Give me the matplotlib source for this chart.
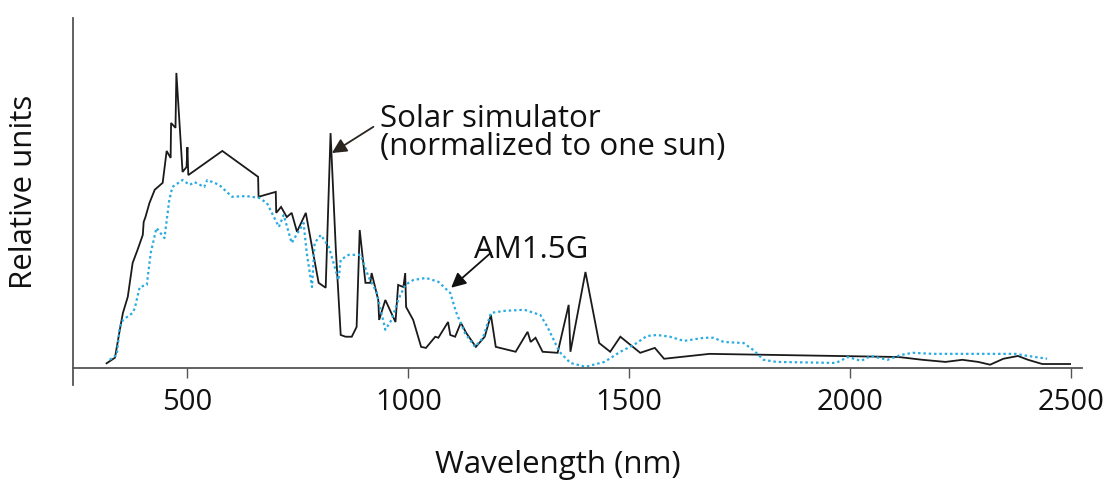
import matplotlib
matplotlib.use("Agg")
import matplotlib.pyplot as plt

# Solar simulator (normalized to one sun)
sim_wl = [317, 336, 347, 354, 365, 376, 387, 399, 401, 405, 414, 426, 444, 453, 462, 463,
          473, 475, 489, 498, 500, 502, 579, 660, 661, 700, 701, 712, 725, 736, 748, 768,
          782, 797, 813, 824, 836, 847, 858, 872, 883, 890, 903, 914, 917, 932, 934, 948,
          971, 977, 989, 993, 995, 1011, 1029, 1040, 1061, 1068, 1090, 1095, 1106, 1119,
          1131, 1153, 1173, 1187, 1198, 1243, 1270, 1277, 1288, 1304, 1338, 1363, 1367,
          1401, 1432, 1457, 1480, 1525, 1558, 1579, 1682, 1968, 2110, 2164, 2216, 2254,
          2290, 2317, 2347, 2380, 2403, 2435, 2498]
sim_val = [1.3, 2.9, 10.9, 15.7, 20.3, 30.0, 33.7, 38.0, 41.7, 43.1, 47.1, 50.9, 52.9, 62.0,
           60.0, 70.0, 68.6, 84.3, 56.0, 57.4, 63.1, 55.1, 62.0, 54.6, 48.9, 50.3, 44.3, 46.0,
           43.1, 44.3, 38.9, 44.3, 34.6, 24.3, 22.9, 67.1, 33.7, 9.4, 8.9, 8.9, 11.7, 39.4,
           24.3, 24.3, 27.1, 19.4, 13.7, 19.4, 13.1, 23.7, 23.1, 27.1, 17.4, 13.7, 6.0, 5.7,
           8.9, 8.6, 13.1, 9.4, 8.9, 12.9, 10.0, 6.0, 8.9, 15.1, 6.0, 4.6, 10.3, 7.4, 8.6,
           4.6, 4.3, 18.0, 4.6, 27.4, 7.1, 4.6, 8.9, 4.3, 5.7, 2.6, 4.0, 3.4, 3.1, 2.3, 1.7,
           2.3, 1.7, 0.9, 2.6, 3.4, 2.3, 1.1, 1.1]

# AM1.5G reference spectrum
am_wl = [324, 340, 347, 354, 376, 381, 392, 408, 417, 430, 448, 459, 466, 489, 505, 516,
         538, 545, 572, 601, 633, 662, 680, 707, 718, 736, 763, 770, 782, 788, 802, 820,
         842, 847, 865, 892, 910, 928, 948, 962, 977, 993, 1011, 1040, 1068, 1095, 1108,
         1128, 1151, 1169, 1187, 1218, 1263, 1299, 1315, 1342, 1367, 1401, 1444, 1480,
         1511, 1540, 1563, 1592, 1624, 1669, 1691, 1714, 1759, 1781, 1804, 1833, 1968,
         1995, 2025, 2047, 2085, 2115, 2142, 2187, 2374, 2403, 2446]
am_val = [2.3, 3.7, 11.7, 13.7, 15.7, 17.1, 23.1, 23.7, 32.9, 40.0, 37.1, 48.0, 51.7, 53.7,
          52.3, 53.1, 51.7, 53.7, 52.3, 48.9, 49.1, 48.6, 47.1, 40.3, 43.7, 35.7, 41.4,
          32.9, 23.1, 35.7, 38.0, 34.6, 25.1, 30.9, 32.3, 32.3, 26.0, 21.7, 10.9, 13.7,
          19.4, 23.7, 25.1, 25.7, 24.6, 21.4, 16.0, 10.0, 6.0, 8.6, 15.7, 16.3, 16.6, 15.1,
          11.7, 4.6, 1.4, 0.3, 1.7, 4.6, 6.6, 9.1, 9.4, 8.9, 7.7, 8.6, 8.6, 7.4, 7.1, 5.1,
          2.3, 1.7, 1.4, 3.1, 2.0, 3.4, 2.3, 3.7, 4.3, 4.0, 4.0, 3.4, 2.6]

x_ticks = [500, 1000, 1500, 2000, 2500]
x_label = "Wavelength (nm)"
y_label = "Relative units"
sim_text = "Solar simulator\n(normalized to one sun)"
am_text = "AM1.5G"

FONT = ["Open Sans", "DejaVu Sans"]
plt.rcParams["font.family"] = FONT

fig = plt.figure(figsize=(11.2, 4.83), dpi=100)
ax = fig.add_axes([73 / 1120, (483 - 385) / 483, (1082 - 73) / 1120, 367 / 483])

ax.plot(sim_wl, sim_val, color="#1a1a1a", lw=1.3, solid_joinstyle="miter")
ax.plot(am_wl, am_val, color="#29abe2", lw=1.6, linestyle=(0, (1.1, 1.3)))

ax.set_xlim(241, 2525)
ax.set_ylim(-4.9, 100)

for s in ["top", "right"]:
    ax.spines[s].set_visible(False)
ax.spines["bottom"].set_position(("data", 0))
ax.spines["bottom"].set_color("#555555")
ax.spines["left"].set_color("#555555")
ax.spines["bottom"].set_linewidth(1.3)
ax.spines["left"].set_linewidth(1.3)

ax.set_yticks([])
ax.set_xticks(x_ticks)
ax.set_xticklabels([str(t) for t in x_ticks])
ax.tick_params(axis="x", direction="out", length=7.5, width=1.0, color="#555555",
               labelsize=21, pad=7, labelcolor="#111111")

fig.text(558 / 1120, 1 - 465 / 483, x_label, ha="center", va="center", fontsize=22.5,
         color="#111111")
fig.text(24 / 1120, 1 - 192 / 483, y_label, ha="center", va="center", rotation=90,
         fontsize=22.5, color="#111111")

ax.text(937, 60.9, sim_text, ha="left", va="baseline", fontsize=22.5, color="#111111",
        linespacing=0.92)
ax.annotate("", xy=(827, 61.4), xytext=(921, 68.9),
            arrowprops=dict(arrowstyle="-|>", color="#2b2520", lw=1.3, mutation_scale=22,
                            shrinkA=0, shrinkB=0))

ax.text(1149, 31.4, am_text, ha="left", va="baseline", fontsize=22.5, color="#111111")
ax.annotate("", xy=(1097, 22.9), xytext=(1187, 32.9),
            arrowprops=dict(arrowstyle="-|>", color="#111111", lw=1.3, mutation_scale=22,
                            shrinkA=0, shrinkB=0))

fig.savefig("out.png", dpi=100)
